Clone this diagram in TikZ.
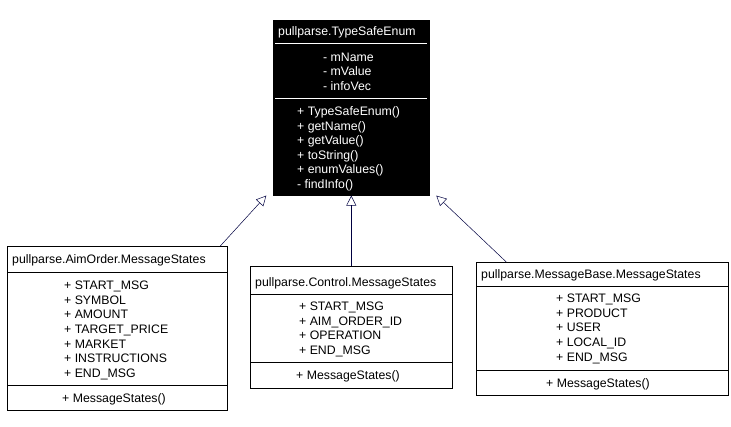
\documentclass[tikz,border=0pt]{standalone}
\usepackage{fontspec}
\setmainfont{Liberation Sans}
\usetikzlibrary{arrows.meta}
\begin{document}
\begin{tikzpicture}[x=1pt,y=-1pt,
  box/.style={draw,anchor=north west,inner sep=0,line width=0.6pt},
  txt/.style={anchor=base west,inner sep=0,font=\fontsize{12.3}{14}\selectfont},
  inh/.style={-{Triangle[open,length=10pt,width=10pt]},line width=0.5pt,draw=black!75!blue}]
\useasboundingbox (0,0) rectangle (731,427);
% top
\node[box,fill=black,minimum width=156pt,minimum height=175pt] (top) at (273,20) {};
\node[txt,text=white] (tt) at (278,35.5) {pullparse.TypeSafeEnum};
\draw[white,line width=0.8pt] (275,43) -- (427,43) (275,98) -- (427,98);
\foreach \t [count=\i from 0] in {- mName,- mValue,- infoVec}
  \node[txt,text=white] (ta\i) at (323,61.5+14.5*\i) {\t};
\foreach \t [count=\i from 0] in {+ TypeSafeEnum(),+ getName(),+ getValue(),+ toString(),+ enumValues(),- findInfo()}
  \node[txt,text=white] (tm\i) at (297,115.5+14.6*\i) {\t};
% left
\node[box,minimum width=220pt,minimum height=164pt] (lb) at (7,246) {};
\node[txt] (lt) at (12,263.5) {pullparse.AimOrder.MessageStates};
\draw (7,272) -- (227,272) (7,385) -- (227,385);
\foreach \t [count=\i from 0] in {+ START\_MSG,+ SYMBOL,+ AMOUNT,+ TARGET\_PRICE,+ MARKET,+ INSTRUCTIONS,+ END\_MSG}
  \node[txt] (la\i) at (64,289.5+14.67*\i) {\t};
\node[txt] (lm) at (62,402.5) {+ MessageStates()};
% middle
\node[box,minimum width=202pt,minimum height=122pt] (mb) at (250,266) {};
\node[txt] (mt) at (255,286.5) {pullparse.Control.MessageStates};
\draw (250,294) -- (452,294) (250,362) -- (452,362);
\foreach \t [count=\i from 0] in {+ START\_MSG,+ AIM\_ORDER\_ID,+ OPERATION,+ END\_MSG}
  \node[txt] (ma\i) at (299,310.5+14.67*\i) {\t};
\node[txt] (mm) at (296,379.5) {+ MessageStates()};
% right
\node[box,minimum width=252pt,minimum height=133pt] (rb) at (476,262) {};
\node[txt] (rt) at (481,278.5) {pullparse.MessageBase.MessageStates};
\draw (476,286) -- (728,286) (476,370) -- (728,370);
\foreach \t [count=\i from 0] in {+ START\_MSG,+ PRODUCT,+ USER,+ LOCAL\_ID,+ END\_MSG}
  \node[txt] (ra\i) at (556,302.5+14.67*\i) {\t};
\node[txt] (rm) at (546,387.5) {+ MessageStates()};
% inheritance
\draw[inh] ([xshift=103pt]lb.north) -- ([xshift=-85pt]top.south);
\draw[inh] (mb.north) -- (mb.north |- top.south);
\draw[inh] ([xshift=-96pt]rb.north) -- ([xshift=85pt]top.south);
\end{tikzpicture}
\end{document}
